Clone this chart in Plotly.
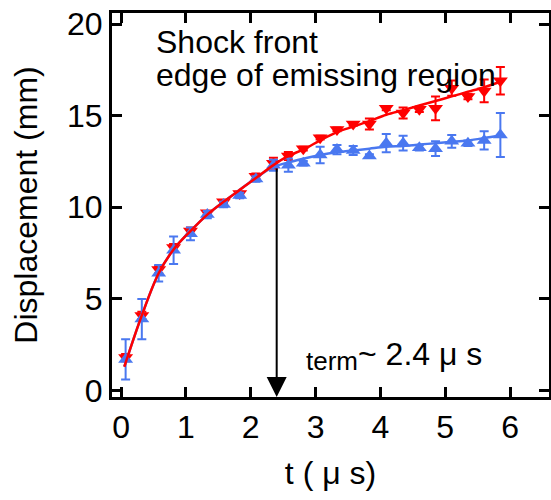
import plotly.graph_objects as go

# ---- data ----
t_us = [0.07, 0.32, 0.58, 0.81, 1.07, 1.33, 1.58, 1.83, 2.08, 2.35, 2.58, 2.81,
        3.07, 3.33, 3.58, 3.83, 4.09, 4.35, 4.60, 4.85, 5.10, 5.35, 5.60, 5.85]

shock_front = [1.8, 4.1, 6.6, 7.8, 8.7, 9.7, 10.3, 10.75, 11.7, 12.4, 12.8, 13.2,
               13.8, 14.25, 14.55, 14.55, 15.4, 15.15, 15.35, 15.4, 16.5, 16.05, 16.35, 16.9]
shock_err = [0.2, 0.2, 0.2, 0.2, 0.2, 0.1, 0.1, 0.1, 0.15, 0.3, 0.22, 0.1,
             0.1, 0.1, 0.1, 0.3, 0.1, 0.3, 0.15, 0.65, 0.42, 0.15, 0.62, 0.75]

emiss_edge = [1.7, 3.9, 6.4, 7.65, 8.55, 9.6, 10.15, 10.65, 11.55, 12.3, 12.3, 12.4,
              12.85, 13.15, 13.1, 12.8, 13.5, 13.5, 13.25, 13.2, 13.6, 13.5, 13.65, 13.95]
emiss_err = [1.1, 1.1, 0.45, 0.75, 0.35, 0.2, 0.15, 0.15, 0.15, 0.3, 0.36, 0.12,
             0.45, 0.25, 0.25, 0.1, 0.5, 0.4, 0.15, 0.4, 0.35, 0.15, 0.5, 1.2]

# fitted curves
fit_t = [0.05, 0.32, 0.58, 0.81, 1.07, 1.33, 1.58, 1.83, 2.08, 2.35, 2.58, 2.81,
         3.07, 3.33, 3.58, 3.83, 4.09, 4.35, 4.60, 4.85, 5.10, 5.35, 5.60, 5.85]
shock_fit = [1.3, 4.1, 6.4, 7.7, 8.7, 9.6, 10.3, 10.95, 11.6, 12.3, 12.8, 13.15,
             13.65, 14.1, 14.4, 14.7, 15.05, 15.3, 15.55, 15.8, 16.05, 16.3, 16.55, 16.85]
emiss_fit = [1.3, 4.1, 6.4, 7.7, 8.7, 9.6, 10.3, 10.95, 11.6, 12.2, 12.45, 12.65,
             12.85, 13.0, 13.1, 13.2, 13.3, 13.35, 13.42, 13.5, 13.57, 13.65, 13.78, 13.93]

t_term = 2.4
arrow_top = 12.2

x_ticks = [0, 1, 2, 3, 4, 5, 6]
y_ticks = [0, 5, 10, 15, 20]

RED = "#ff0000"
BLUE = "#4a78f0"
FONT = "Liberation Sans, Arial, sans-serif"

fig = go.Figure()

fig.add_trace(go.Scatter(
    x=t_us, y=shock_front, mode="markers",
    marker=dict(symbol="triangle-down", size=13, color=RED),
    error_y=dict(type="data", array=shock_err, color=RED, thickness=2, width=4.5),
    showlegend=False, cliponaxis=False))

fig.add_trace(go.Scatter(
    x=t_us, y=emiss_edge, mode="markers",
    marker=dict(symbol="triangle-up", size=13, color=BLUE),
    error_y=dict(type="data", array=emiss_err, color=BLUE, thickness=2, width=4.5),
    showlegend=False, cliponaxis=False))

fig.add_trace(go.Scatter(
    x=fit_t, y=emiss_fit, mode="lines",
    line=dict(color=BLUE, width=2.5, shape="spline", smoothing=1.0),
    showlegend=False))

fig.add_trace(go.Scatter(
    x=fit_t, y=shock_fit, mode="lines",
    line=dict(color=RED, width=2.5, shape="spline", smoothing=1.0),
    showlegend=False))

axis_common = dict(
    showline=True, linecolor="black", linewidth=3, mirror="ticks",
    ticks="inside", ticklen=10, tickwidth=3, tickcolor="black",
    showgrid=False, zeroline=False, automargin=False,
    ticklabeloverflow="allow",
    tickfont=dict(family=FONT, size=32, color="black"),
)

fig.update_xaxes(range=[-0.14, 6.6], tickvals=x_ticks,
                 ticktext=[str(v) for v in x_ticks],
                 title=dict(text="t ( μ s)", font=dict(family=FONT, size=32, color="black"),
                            standoff=18),
                 **axis_common)
fig.update_yaxes(range=[-0.35, 20.6], tickvals=y_ticks,
                 ticktext=[str(v) for v in y_ticks],
                 title=dict(text="Displacement (mm)", font=dict(family=FONT, size=32, color="black"),
                            standoff=20),
                 **axis_common)

fig.add_annotation(x=t_term, y=-0.35, ax=t_term, ay=arrow_top,
                   xref="x", yref="y", axref="x", ayref="y",
                   text="", showarrow=True, arrowhead=2, arrowsize=2,
                   arrowwidth=2, arrowcolor="black")

fig.add_annotation(x=0.095, y=0.925, xref="paper", yref="paper",
                   text="Shock front", showarrow=False,
                   xanchor="left", yanchor="middle",
                   font=dict(family=FONT, size=32, color="black"))
fig.add_annotation(x=0.095, y=0.838, xref="paper", yref="paper",
                   text="edge of emissing region", showarrow=False,
                   xanchor="left", yanchor="middle",
                   font=dict(family=FONT, size=32, color="black"))
fig.add_annotation(x=0.44, y=0.093, xref="paper", yref="paper",
                   text="term", showarrow=False,
                   xanchor="left", yanchor="middle",
                   font=dict(family=FONT, size=26, color="black"))
fig.add_annotation(x=0.558, y=0.111, xref="paper", yref="paper",
                   text="~ 2.4 μ s", showarrow=False,
                   xanchor="left", yanchor="middle",
                   font=dict(family=FONT, size=32, color="black"))

fig.update_layout(
    width=551, height=500,
    margin=dict(l=112, r=2, t=13, b=103),
    paper_bgcolor="white", plot_bgcolor="white",
    font=dict(family=FONT, color="black"),
)

# remove the page's default body margin so the figure fills the window exactly
fig.write_html("out.html",
               config={"displayModeBar": False, "staticPlot": True},
               post_script="document.body.style.margin='0px';document.body.style.overflow='hidden';")
